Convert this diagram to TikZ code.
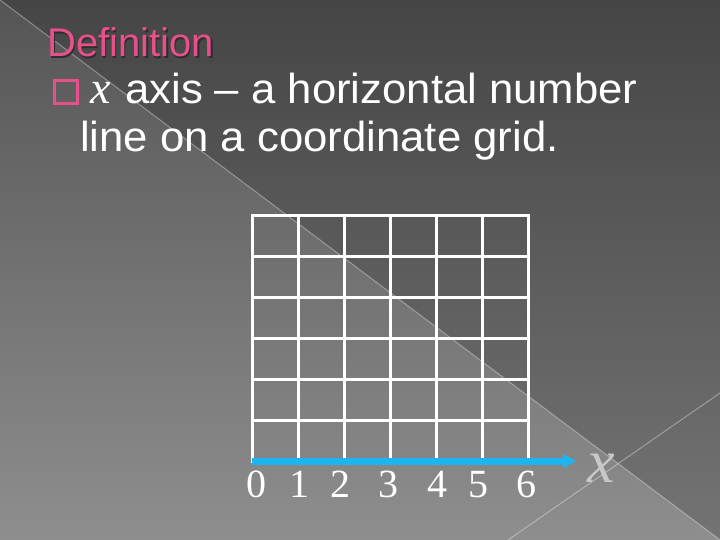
\documentclass[tikz,border=0pt]{standalone}
\usepackage{fontspec}
\setmainfont{Liberation Serif}
\newfontfamily\titlesans{Liberation Sans}
\newfontfamily\slidesans[FakeStretch=1.04]{Liberation Sans}
\usetikzlibrary{positioning}
\usetikzlibrary{arrows.meta}
\definecolor{SlideTop}{HTML}{555555}
\definecolor{SlideBottom}{HTML}{8E8E8E}
\definecolor{DefPink}{HTML}{E8508C}
\definecolor{TitleShadow}{HTML}{2E2E2E}
\definecolor{AxisBlue}{HTML}{1EB4F0}
\definecolor{LabelGray}{HTML}{C8C8C8}
\tikzstyle{ThemeLine}   = [white, opacity=0.35, line width=1pt]
\tikzstyle{TitleText}   = [font=\titlesans\fontsize{40}{48}\selectfont, anchor=base west, inner sep=0pt]
\tikzstyle{BodyText}    = [font=\slidesans\fontsize{42}{48}\selectfont, text=white, anchor=base west, inner sep=0pt]
\tikzstyle{VarText}     = [font=\itshape\fontsize{46}{48}\selectfont, text=white, anchor=base west, inner sep=0pt]
\tikzstyle{BulletBox}   = [rectangle, draw=DefPink, line width=3pt, minimum width=23pt, minimum height=23pt, inner sep=0pt]
\tikzstyle{GridLine}    = [white, line width=3pt, line cap=rect]
\tikzstyle{AxisArrow}   = [AxisBlue, line width=7pt, -{Triangle[length=13pt,width=14pt]}]
\tikzstyle{TickText}    = [font=\fontsize{40}{48}\selectfont, text=white, anchor=base, inner sep=0pt]
\tikzstyle{AxisName}    = [font=\itshape\fontsize{62}{64}\selectfont, text=LabelGray, inner sep=0pt]

\begin{document}
\begin{tikzpicture}[x=1pt, y=-1pt]

\useasboundingbox (0,0) rectangle (720,540);

%% -------------------------------------------------------------- [ Background ]
\shade [top color=SlideTop, bottom color=SlideBottom] (0,0) rectangle (720,540);
\fill [black, opacity=0.18] (0,0) -- (720,0) -- (720,540) -- cycle;
\draw [ThemeLine] (0,0) -- (720,540);
\draw [ThemeLine] (508,540) -- (720,393);

%% -------------------------------------------------------------- [ Definition ]
\node (defshadow) [TitleText, text=TitleShadow] at (48.5,58.5) {Definition};
\node (definition) [TitleText, text=DefPink] at (47,57) {Definition};

\node (bullet) [BulletBox] at (66,92) {};
\node (xvar) [VarText] at (90,104) {x};
\node (line1) [BodyText] at (125,104) {axis – a horizontal number};
\node (line2) [BodyText] at (80,152) {line on a coordinate grid.};

%% -------------------------------------------------------------------- [ Grid ]
\foreach \i in {0,...,6}
  \draw [GridLine] ({252+46*\i},216) -- ({252+46*\i},461);
\foreach \j in {0,...,5}
  \draw [GridLine] (252,{216+40.8*\j}) -- (528,{216+40.8*\j});

%% -------------------------------------------------------------------- [ Axis ]
\coordinate (origin) at (252,461);
\coordinate (axisend) at (576,461);
\draw [AxisArrow] (origin) -- (axisend);

\foreach \n/\xpos in {0/256, 1/299, 2/340, 3/388, 4/437, 5/478, 6/526}
  \node (tick\n) [TickText] at (\xpos,497) {\n};

\node (xname) [AxisName] at (601,468) {x};
\end{tikzpicture}
\end{document}
